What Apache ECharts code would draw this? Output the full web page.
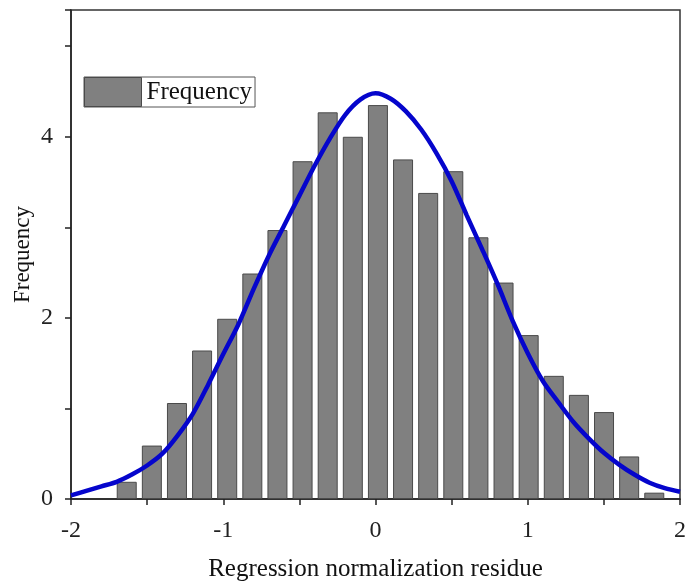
<!DOCTYPE html>
<html><head><meta charset="utf-8">
<script src="https://cdn.jsdelivr.net/npm/echarts@6/dist/echarts.min.js"></script>
<style>html,body{margin:0;padding:0;background:#fff}#c{width:686px;height:584px}</style>
</head><body><div id="c"></div>
<script>
var binCenters = [-1.634,-1.469,-1.304,-1.139,-0.974,-0.809,-0.644,-0.479,-0.314,-0.149,0.016,0.181,0.346,0.511,0.676,0.841,1.006,1.171,1.336,1.501,1.666,1.831];
var binFreq = [0.19,0.59,1.06,1.64,1.99,2.49,2.97,3.73,4.27,4.00,4.35,3.75,3.38,3.62,2.89,2.39,1.81,1.36,1.15,0.96,0.47,0.07];
var curveX = [-2.0,-1.9,-1.8,-1.7,-1.6,-1.5,-1.4,-1.3,-1.2,-1.1,-1.0,-0.9,-0.8,-0.7,-0.6,-0.5,-0.4,-0.3,-0.2,-0.1,0.0,0.1,0.2,0.3,0.4,0.5,0.6,0.7,0.8,0.9,1.0,1.1,1.2,1.3,1.4,1.5,1.6,1.7,1.8,1.9,2.0];
var curveY = [0.04,0.09,0.14,0.19,0.27,0.37,0.50,0.70,0.94,1.26,1.60,1.93,2.32,2.69,3.02,3.35,3.68,3.98,4.24,4.41,4.48,4.42,4.28,4.08,3.82,3.51,3.13,2.76,2.38,1.97,1.61,1.30,1.07,0.85,0.67,0.51,0.38,0.27,0.18,0.12,0.08];
var xTickLabels = ['-2','-1','0','1','2'];
var yTickLabels = ['0','2','4'];

var serif = '"Liberation Serif","DejaVu Serif",serif';
var chart = echarts.init(document.getElementById('c'));
chart.setOption({
  animation: false,
  grid: {left: 71, right: 6, top: 10, bottom: 85, show: true, borderColor: '#333', borderWidth: 1.5,
         containLabel: false, outerBoundsMode: 'none'},
  legend: {
    left: 84, top: 77, data: ['Frequency'], icon: 'rect',
    itemWidth: 57, itemHeight: 29, itemGap: 0,
    padding: [0, 3, 0, 0],
    borderColor: '#555', borderWidth: 1, backgroundColor: '#fff',
    itemStyle: {color: '#808080', borderColor: '#4a4a4a', borderWidth: 1},
    textStyle: {fontFamily: serif, fontSize: 25, color: '#111'}
  },
  xAxis: {
    type: 'value', min: -2, max: 2, interval: 0.5,
    name: 'Regression normalization residue', nameLocation: 'middle', nameGap: 58,
    nameMoveOverlap: false,
    nameTextStyle: {fontFamily: serif, fontSize: 25, color: '#111'},
    axisLine: {onZero: false, lineStyle: {color: '#222', width: 1.5}},
    axisTick: {inside: false, length: 6, lineStyle: {color: '#222', width: 1.5}},
    axisLabel: {fontFamily: serif, fontSize: 24, color: '#222', margin: 20,
      formatter: function(v){ var s = String(v); return xTickLabels.indexOf(s) >= 0 ? s : ''; }},
    splitLine: {show: false}
  },
  yAxis: {
    type: 'value', min: 0, max: 5.4, interval: 1,
    name: 'Frequency', nameLocation: 'middle', nameGap: 37,
    nameMoveOverlap: false,
    nameTextStyle: {fontFamily: serif, fontSize: 23, color: '#111'},
    axisLine: {show: true, onZero: false, lineStyle: {color: '#222', width: 1.5}},
    axisTick: {show: true, inside: false, length: 6, lineStyle: {color: '#222', width: 1.5}},
    axisLabel: {fontFamily: serif, fontSize: 24, color: '#222', margin: 18,
      formatter: function(v){ var s = String(v); return yTickLabels.indexOf(s) >= 0 ? s : ''; }},
    splitLine: {show: false}
  },
  series: [
    {
      name: 'Frequency', type: 'bar', barWidth: 20,
      data: binCenters.map(function(x, i){ return [x, binFreq[i]]; }),
      itemStyle: {color: '#808080', borderColor: '#4a4a4a', borderWidth: 1},
      z: 2
    },
    {
      name: 'Fit', type: 'line', smooth: 0.3, symbol: 'none',
      data: curveX.map(function(x, i){ return [x, curveY[i]]; }),
      lineStyle: {color: '#0505cc', width: 4.5},
      z: 3
    }
  ]
});
</script></body></html>
